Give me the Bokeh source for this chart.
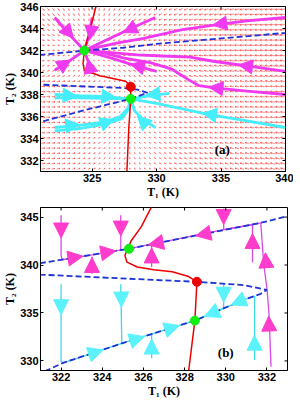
import numpy as np
from bokeh.plotting import figure
from bokeh.models import (ColumnDataSource, Arrow, NormalHead, FixedTicker, Range1d)
from bokeh.layouts import column
from bokeh.embed import file_html
from bokeh.resources import INLINE
from bokeh.core.properties import value

# ================= Panel (a) data =================
a_x_range = (321, 340)
a_y_range = (331, 346)
a_xticks = [325, 330, 335, 340]
a_yticks = [332, 334, 336, 338, 340, 342, 344, 346]

# red nullcline (T1 as function of T2, T2 ascending)
red_a_T2 = [331.0, 335.0, 337.6, 338.7, 339.2, 339.4, 339.7, 340.2, 340.8, 342.0, 343.7, 346.0]
red_a_T1 = [327.7, 327.85, 328.0, 328.0, 327.6, 326.8, 325.6, 324.4, 324.3, 324.4, 324.8, 325.3]

# blue dashed nullcline (S-curve, T2 ascending)
blue_a_T2 = [331.0, 335.5, 336.6, 337.6, 337.95, 338.15, 338.45, 338.6, 338.75, 338.9,
             339.4, 340.0, 340.6, 341.6, 342.0, 342.25, 342.6, 343.1, 343.6, 346.0]
blue_a_T1 = [307.8, 321.0, 324.5, 328.0, 328.8, 329.3, 328.5, 327.4, 324.0, 321.0,
             311.0, 306.0, 312.0, 321.0, 324.5, 327.4, 330.0, 335.0, 340.0, 362.0]

stable_a_T1 = [324.4, 328.0]
stable_a_T2 = [342.0, 337.6]
saddle_a_T1 = [328.0]
saddle_a_T2 = [338.7]

# magenta trajectories (a)
ma1_T1 = [322.1, 323.2, 324.4];               ma1_T2 = [345.0, 343.5, 342.0]
ma2_T1 = [325.0, 324.8, 324.4];               ma2_T2 = [345.0, 343.5, 342.0]
ma3_T1 = [329.9, 328.0, 326.2, 324.4];        ma3_T2 = [345.0, 344.0, 343.0, 342.0]
ma4_T1 = [340.0, 337.0, 335.0, 332.0, 329.0, 327.0, 325.5, 324.4]
ma4_T2 = [345.0, 344.7, 344.4, 343.9, 343.1, 342.7, 342.3, 342.0]
ma5_T1 = [340.0, 337.0, 334.5, 332.6, 330.5, 328.5, 326.5, 324.4]
ma5_T2 = [340.1, 340.6, 341.0, 341.4, 341.5, 341.6, 341.8, 342.0]
ma6_T1 = [340.0, 337.0, 334.5, 333.3, 332.4, 331.2, 329.5, 327.5, 325.8, 324.4]
ma6_T2 = [338.0, 338.3, 338.6, 338.8, 339.4, 340.3, 340.9, 341.3, 341.8, 342.0]
ma7_T1 = [330.0, 328.4, 326.5, 324.4];        ma7_T2 = [340.1, 340.6, 341.3, 342.0]
ma8_T1 = [322.1, 323.3, 324.4];               ma8_T2 = [340.2, 341.1, 342.0]
ma9_T1 = [324.9, 324.7, 324.4];               ma9_T2 = [339.9, 341.0, 342.0]
mag_a = [(ma1_T1, ma1_T2), (ma2_T1, ma2_T2), (ma3_T1, ma3_T2), (ma4_T1, ma4_T2),
         (ma5_T1, ma5_T2), (ma6_T1, ma6_T2), (ma7_T1, ma7_T2), (ma8_T1, ma8_T2),
         (ma9_T1, ma9_T2)]
mag_a_heads = [(0, 323.2, 343.6), (1, 324.9, 343.6), (2, 327.9, 343.9), (3, 334.9, 344.4),
               (4, 336.9, 340.6), (5, 334.6, 338.6), (6, 328.5, 340.6), (7, 322.9, 340.8),
               (8, 324.8, 340.6)]

# cyan trajectories (a)
ca1_T1 = [322.1, 324.0, 326.0, 328.0];        ca1_T2 = [338.0, 337.9, 337.8, 337.6]
ca2_T1 = [322.1, 324.0, 326.0, 328.0];        ca2_T2 = [337.7, 337.7, 337.65, 337.6]
ca3_T1 = [322.1, 324.0, 326.0, 327.2, 327.8, 328.0]
ca3_T2 = [335.0, 335.2, 335.5, 336.0, 336.8, 337.6]
ca4_T1 = [322.1, 324.0, 326.0, 327.3, 327.9, 328.0]
ca4_T2 = [334.7, 334.9, 335.3, 335.8, 336.8, 337.6]
ca5_T1 = [329.9, 329.0, 328.3, 328.0];        ca5_T2 = [335.0, 335.7, 336.5, 337.6]
ca6_T1 = [340.0, 337.0, 334.0, 332.0, 330.0, 328.0]
ca6_T2 = [335.0, 335.6, 336.2, 336.7, 337.2, 337.6]
ca7_T1 = [331.0, 329.5, 328.0];               ca7_T2 = [338.1, 337.9, 337.6]
cyan_a = [(ca1_T1, ca1_T2), (ca2_T1, ca2_T2), (ca3_T1, ca3_T2), (ca4_T1, ca4_T2),
          (ca5_T1, ca5_T2), (ca6_T1, ca6_T2), (ca7_T1, ca7_T2)]
cyan_a_heads = [(0, 323.3, 337.9), (0, 326.3, 337.8), (2, 323.5, 335.2), (2, 326.2, 335.5),
                (4, 328.9, 335.6), (5, 334.1, 336.2), (6, 329.7, 338.0)]

# ================= Panel (b) data =================
b_x_range = (321, 333)
b_y_range = (329, 346)
b_xticks = [322, 324, 326, 328, 330, 332]
b_yticks = [330, 335, 340, 345]

red_b_T1 = [326.4, 325.9, 325.4, 325.1, 325.2, 325.7, 326.5, 327.4, 328.2, 328.6, 328.5, 328.2]
red_b_T2 = [346.1, 344.0, 342.5, 341.0, 340.3, 339.8, 339.5, 339.3, 338.8, 338.25, 334.2, 329.0]

blue_b_T1 = [320.8, 321.4, 322.1, 325.2, 328.5, 330.9, 331.7, 332.0, 330.9, 328.6, 327.0,
             321.0, 318.5, 321.0, 325.3, 331.7, 333.0, 334.0]
blue_b_T2 = [328.6, 329.1, 329.8, 332.0, 334.2, 336.4, 337.0, 337.4, 337.9, 338.25, 338.4,
             339.0, 339.5, 340.2, 341.7, 344.4, 345.1, 345.5]

stable_b_T1 = [325.3, 328.5]
stable_b_T2 = [341.7, 334.2]
saddle_b_T1 = [328.6]
saddle_b_T2 = [338.25]

mb1_T1 = [322.0, 322.0, 322.05, 323.5, 325.3];  mb1_T2 = [345.2, 341.0, 340.55, 341.05, 341.7]
mb2_T1 = [324.9, 324.9];                        mb2_T2 = [345.2, 341.6]
mb3_T1 = [323.5, 323.5];                        mb3_T2 = [339.1, 340.9]
mb4_T1 = [326.4, 326.4];                        mb4_T2 = [339.8, 342.1]
mb5_T1 = [329.9, 329.9, 327.5, 325.3];          mb5_T2 = [345.9, 343.7, 342.65, 341.7]
mb6_T1 = [331.3, 331.3, 329.9];                 mb6_T2 = [340.3, 344.2, 343.7]
mb7_T1 = [332.2, 332.1, 332.0, 331.85, 331.7, 329.9]
mb7_T2 = [329.4, 335.0, 337.6, 340.0, 344.4, 343.7]
mag_b = [(mb1_T1, mb1_T2), (mb2_T1, mb2_T2), (mb3_T1, mb3_T2), (mb4_T1, mb4_T2),
         (mb5_T1, mb5_T2), (mb6_T1, mb6_T2), (mb7_T1, mb7_T2)]
mag_b_heads = [(0, 322.0, 343.6), (0, 322.7, 340.8), (0, 324.3, 341.35), (1, 324.9, 343.8),
               (2, 323.5, 340.0), (3, 326.4, 341.0), (4, 329.9, 345.0), (4, 328.9, 343.2),
               (4, 326.6, 342.25), (5, 331.3, 342.5), (6, 332.1, 333.9), (6, 331.95, 340.5)]

cb1_T1 = [322.0, 322.0, 322.1, 325.2, 328.5];   cb1_T2 = [338.0, 330.0, 329.8, 332.0, 334.2]
cb2_T1 = [324.9, 324.95];                       cb2_T2 = [338.0, 331.9]
cb3_T1 = [326.4, 326.4];                        cb3_T2 = [330.3, 332.85]
cb4_T1 = [329.9, 329.9, 328.5];                 cb4_T2 = [338.0, 335.5, 334.2]
cb5_T1 = [331.4, 331.4, 330.9, 328.5];          cb5_T2 = [330.1, 336.75, 336.4, 334.2]
cyan_b = [(cb1_T1, cb1_T2), (cb2_T1, cb2_T2), (cb3_T1, cb3_T2), (cb4_T1, cb4_T2),
          (cb5_T1, cb5_T2)]
cyan_b_heads = [(0, 322.0, 335.6), (0, 323.7, 330.9), (0, 325.7, 332.3), (0, 327.4, 333.45),
                (1, 324.93, 336.4), (2, 326.4, 331.5), (3, 329.9, 336.9), (4, 331.4, 331.9),
                (4, 330.6, 336.15), (4, 329.3, 334.95)]

panel_labels = ["(a)", "(b)"]
label_a_pos = (335.1, 333.0)
label_b_pos = (330.0, 330.9)

# ================= helpers =================
FW_A, FH_A = 245, 165
FW_B, FH_B = 247, 163
TICK_PX = 3


def nearest_dir(tx, ty, x, y, sx, sy):
    px = np.array(tx) * sx
    py = np.array(ty) * sy
    qx, qy = x * sx, y * sy
    best = None
    for i in range(len(px) - 1):
        dx, dy = px[i + 1] - px[i], py[i + 1] - py[i]
        l2 = dx * dx + dy * dy
        if l2 == 0:
            continue
        t = max(0.0, min(1.0, ((qx - px[i]) * dx + (qy - py[i]) * dy) / l2))
        d = (px[i] + t * dx - qx) ** 2 + (py[i] + t * dy - qy) ** 2
        if best is None or d < best[0]:
            best = (d, dx / np.sqrt(l2), dy / np.sqrt(l2))
    return best[1], best[2]


def add_heads(p, trajs, heads, sx, sy, size, color):
    x0, y0, x1, y1 = [], [], [], []
    for ti, x, y in heads:
        ux, uy = nearest_dir(trajs[ti][0], trajs[ti][1], x, y, sx, sy)
        h = size / 2.0
        x0.append(x - ux * h / sx); y0.append(y - uy * h / sy)
        x1.append(x + ux * h / sx); y1.append(y + uy * h / sy)
    src = ColumnDataSource(dict(x0=x0, y0=y0, x1=x1, y1=y1))
    p.add_layout(Arrow(end=NormalHead(size=size, fill_color=color, line_color=color,
                                      line_width=1),
                       x_start="x0", y_start="y0", x_end="x1", y_end="y1",
                       source=src, line_alpha=0))


def style(p, xt, yt, xr, yr, sx, sy):
    p.xgrid.visible = False
    p.ygrid.visible = False
    p.outline_line_color = "black"
    p.outline_line_width = 1
    p.outline_line_alpha = 1
    p.background_fill_color = "white"
    p.border_fill_color = "white"
    p.xaxis.ticker = FixedTicker(ticks=xt)
    p.yaxis.ticker = FixedTicker(ticks=yt)
    p.xaxis.axis_label = "T\u2081 (K)"
    p.yaxis.axis_label = "T\u2082 (K)"
    for ax in [p.xaxis[0], p.yaxis[0]]:
        ax.major_label_text_font = "Liberation Sans"
        ax.major_label_text_font_size = "11px"
        ax.major_label_text_font_style = "bold"
        ax.major_label_text_color = "black"
        ax.major_label_standoff = 2
        ax.major_tick_in = TICK_PX
        ax.major_tick_out = 0
        ax.minor_tick_in = 0
        ax.minor_tick_out = 0
        ax.axis_line_color = "black"
        ax.major_tick_line_color = "black"
        ax.axis_label_text_font = "Liberation Serif"
        ax.axis_label_text_font_style = "bold"
        ax.axis_label_text_font_size = "12px"
        ax.axis_label_text_color = "black"
        ax.axis_label_standoff = 0
    # inward ticks on the top and right edges of the box
    tx0 = list(xt) + [xr[1]] * len(yt)
    ty0 = [yr[1]] * len(xt) + list(yt)
    tx1 = list(xt) + [xr[1] - TICK_PX / sx] * len(yt)
    ty1 = [yr[1] - TICK_PX / sy] * len(xt) + list(yt)
    p.segment(tx0, ty0, tx1, ty1, line_color="black", line_width=1, level="overlay")


BLUE = "#1f33d9"
RED = "#ee0000"
GREEN = "#11ee11"

# ================= Panel (a) =================
pa = figure(frame_width=FW_A, frame_height=FH_A,
            x_range=Range1d(*a_x_range), y_range=Range1d(*a_y_range),
            output_backend="svg", toolbar_location=None,
            min_border_left=26, min_border_right=8, min_border_top=6, min_border_bottom=0)
sxa = FW_A / (a_x_range[1] - a_x_range[0])
sya = FH_A / (a_y_range[1] - a_y_range[0])

# vector field built from the two nullclines read above
g1 = np.linspace(321.2, 339.8, 48)
g2 = np.linspace(331.25, 345.75, 32)
X, Y = np.meshgrid(g1, g2)
rT1 = np.interp(Y, red_a_T2, red_a_T1)
hT1 = np.interp(Y, blue_a_T2, blue_a_T1)
U = -(X - rT1) * sxa
V = 0.1 * (X - hT1) * sya
M = np.maximum(np.hypot(U, V), 1e-9)
L = 5.4 * (M / M.max()) ** 0.5
ux, uy = U / M, V / M
xs0 = X - ux * L / 2 / sxa; ys0 = Y - uy * L / 2 / sya
xs1 = X + ux * L / 2 / sxa; ys1 = Y + uy * L / 2 / sya
hl = np.maximum(0.38 * L, 0.8)
seg_x0 = [xs0.ravel()]; seg_y0 = [ys0.ravel()]; seg_x1 = [xs1.ravel()]; seg_y1 = [ys1.ravel()]
for th in (0.45, -0.45):
    bx = -ux * np.cos(th) + uy * np.sin(th)
    by = -ux * np.sin(th) - uy * np.cos(th)
    seg_x0.append(xs1.ravel()); seg_y0.append(ys1.ravel())
    seg_x1.append((xs1 + bx * hl / sxa).ravel()); seg_y1.append((ys1 + by * hl / sya).ravel())
pa.segment(np.concatenate(seg_x0), np.concatenate(seg_y0),
           np.concatenate(seg_x1), np.concatenate(seg_y1),
           line_color="#ff2a2a", line_width=0.65, line_alpha=0.85)

style(pa, a_xticks, a_yticks, a_x_range, a_y_range, sxa, sya)

MAG_A = "#f03af0"
CYA_A = "#45eefa"
for tx, ty in mag_a:
    pa.line(tx, ty, line_color=MAG_A, line_width=2.8)
for tx, ty in cyan_a:
    pa.line(tx, ty, line_color=CYA_A, line_width=2.8)
pa.line(blue_a_T1, blue_a_T2, line_color=BLUE, line_width=1.8, line_dash="6 3")
pa.line(red_a_T1, red_a_T2, line_color=RED, line_width=1.5)
add_heads(pa, mag_a, mag_a_heads, sxa, sya, 14, MAG_A)
add_heads(pa, cyan_a, cyan_a_heads, sxa, sya, 14, CYA_A)
pa.scatter(stable_a_T1, stable_a_T2, size=9, fill_color=GREEN, line_color=GREEN)
pa.scatter(saddle_a_T1, saddle_a_T2, size=9, fill_color=RED, line_color=RED)
pa.text([label_a_pos[0]], [label_a_pos[1]], text=[panel_labels[0]],
        text_font=value("Liberation Serif"), text_font_style="bold",
        text_font_size="13px", text_align="center", text_baseline="middle",
        text_color="black")

# ================= Panel (b) =================
pb = figure(frame_width=FW_B, frame_height=FH_B,
            x_range=Range1d(*b_x_range), y_range=Range1d(*b_y_range),
            output_backend="svg", toolbar_location=None,
            min_border_left=26, min_border_right=6, min_border_top=6, min_border_bottom=0)
sxb = FW_B / (b_x_range[1] - b_x_range[0])
syb = FH_B / (b_y_range[1] - b_y_range[0])
style(pb, b_xticks, b_yticks, b_x_range, b_y_range, sxb, syb)

MAG_B = "#d64ae6"
MAG_B_HEAD = "#ff3ccc"
CYA_B = "#3fd6ef"
CYA_B_HEAD = "#5cf2fb"
for tx, ty in mag_b:
    pb.line(tx, ty, line_color=MAG_B, line_width=1.3)
for tx, ty in cyan_b:
    pb.line(tx, ty, line_color=CYA_B, line_width=1.3)
pb.line(blue_b_T1, blue_b_T2, line_color=BLUE, line_width=1.8, line_dash="6 3")
pb.line(red_b_T1, red_b_T2, line_color=RED, line_width=1.5)
add_heads(pb, mag_b, mag_b_heads, sxb, syb, 15, MAG_B_HEAD)
add_heads(pb, cyan_b, cyan_b_heads, sxb, syb, 15, CYA_B_HEAD)
pb.scatter(stable_b_T1, stable_b_T2, size=9, fill_color=GREEN, line_color=GREEN)
pb.scatter(saddle_b_T1, saddle_b_T2, size=9, fill_color=RED, line_color=RED)
pb.text([label_b_pos[0]], [label_b_pos[1]], text=[panel_labels[1]],
        text_font=value("Liberation Serif"), text_font_style="bold",
        text_font_size="13px", text_align="center", text_baseline="middle",
        text_color="black")

layout = column(pa, pb, spacing=0)
open("out.html", "w").write(file_html(layout, INLINE))
